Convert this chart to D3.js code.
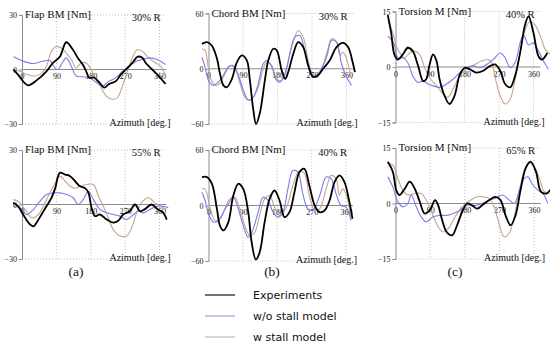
<!DOCTYPE html>
<html><head><meta charset="utf-8">
<script src="https://cdn.jsdelivr.net/npm/d3@7"></script>
<style>body{margin:0;background:#fff}svg{display:block}</style>
</head><body>
<svg id="c" width="550" height="344"></svg>
<script>
// ---- data: [azimuth deg, value Nm] ----
const azTicks = [0, 90, 180, 270, 360];
const seriesNames = ["Experiments", "w/o stall model", "w stall model"];
const captions = ["(a)", "(b)", "(c)"];
const titles = ["Flap BM [Nm]", "Chord BM [Nm]", "Torsion M [Nm]", "Flap BM [Nm]", "Chord BM [Nm]", "Torsion M [Nm]"];
const stations = ["30% R", "30% R", "40% R", "55% R", "40% R", "65% R"];
const yMax = [30, 60, 15, 30, 60, 15];

const flap30Exp = [[-22,0],[-10,-3],[16,-8.7],[38,-6],[64,-1],[81,3.6],[99,7],[116,15],[133,11],[146,6.4],[159,2.7],[168,-1],[176,-4.5],[189,-4.5],[202,-7],[215,-10],[228,-8],[246,-6.4],[259,-2.7],[277,1],[289,3.6],[302,7],[315,6.5],[324,3.6],[341,0],[358,-3.6],[376,-8]];
const flap30NoStall = [[-22,7],[4,4.5],[29,3.3],[55,4.5],[73,5],[86,1],[94,0],[103,2.7],[116,6.4],[129,1.8],[142,-3.6],[159,-4],[176,-4.5],[194,-7],[211,-9],[228,-6.4],[246,-4.5],[263,-1],[280,1.8],[298,4.5],[315,5.5],[336,6.4],[354,5.5],[376,2.7]];
const flap30Stall = [[-22,0],[-5,-1],[12,-2.7],[29,-3.6],[47,-2.7],[64,1.8],[77,10],[90,12.7],[103,11.8],[116,9],[129,5.5],[142,1],[155,3.6],[168,3.6],[181,0],[194,-5.5],[207,-10],[220,-14.5],[237,-16.4],[250,-15.5],[263,-9],[276,-1],[289,6.4],[302,11],[315,10],[332,6.4],[350,3.6],[363,1.8],[376,-3.6]];

const chord30Exp = [[-17,27],[-4,29],[9,25],[22,11],[30,-5.4],[39,-18],[48,-20],[61,-11],[74,7],[87,14.5],[100,9],[108,-12.7],[117,-45],[124,-60],[134,-48],[147,-12.7],[156,9],[169,21.7],[178,20],[191,-2],[200,-11],[208,-3.6],[221,16],[234,29],[247,23.5],[260,3.6],[273,-9],[286,-7],[299,0],[316,9],[334,23.5],[351,28],[364,23.5],[377,5.4],[382,-3.6]];
const chord30NoStall = [[-17,12.7],[-9,2],[0,-12.7],[13,-18],[26,-14.5],[39,-7],[52,2],[65,3.6],[78,-7],[91,-23.5],[104,-34],[117,-30.8],[130,-16],[143,5.4],[152,9],[165,2],[178,-12.7],[186,-14.5],[200,-5.4],[212,16],[225,34],[238,36],[251,20],[264,0],[277,-9],[290,-3.6],[308,12.7],[321,30.8],[334,29],[347,5.4],[360,-9],[373,-18]];
const chord30Stall = [[-17,21.7],[-9,20],[4,-9],[17,-18],[30,-16],[43,-5.4],[56,3.6],[69,0],[82,-16],[95,-30.8],[104,-34.4],[117,-30.8],[130,-20],[143,0],[152,7],[165,3.6],[178,-11],[191,-12.7],[204,2],[217,23.5],[234,41.6],[247,34.4],[260,9],[273,-7],[290,-3.6],[308,16],[321,32.6],[334,29],[343,14.5],[351,18],[360,11],[373,-11]];

const tors40Exp = [[-20,14],[-11,9],[-3,3.4],[6,2],[19,3.4],[32,5.2],[45,4.3],[59,0.3],[72,-3.8],[80,-3.3],[89,0.7],[98,3.4],[107,1.6],[115,-3.3],[128,-7.8],[141,-10],[154,-7.8],[168,-2],[181,-0.2],[194,-0.6],[211,-1.5],[229,-1],[247,0.3],[260,0.7],[273,-1],[286,-4.6],[299,-5.5],[312,-2.4],[325,3.8],[338,11.4],[347,13.7],[360,9.2],[373,2.9],[382,2],[396,3.8]];
const tors40NoStall = [[-20,8.3],[-11,7.4],[-3,6],[6,2.5],[19,2.5],[32,1.2],[45,-2.4],[59,-4.2],[72,-3.8],[85,-4.6],[98,-5.1],[115,-5.5],[133,-4.6],[150,-3.3],[168,-1.5],[185,-0.2],[203,0.3],[220,-0.2],[238,0.7],[255,2],[273,3.8],[286,2.5],[299,-0.2],[312,1.2],[325,6.5],[334,8.7],[347,6],[360,6.5],[373,4.3],[386,1.6],[399,-0.6]];
const tors40Stall = [[-20,12.8],[-7,9.2],[6,4.7],[24,2.5],[37,3.8],[50,4.3],[63,3.4],[76,-0.2],[89,-2.9],[107,-5.1],[124,-7.3],[137,-8.2],[150,-6],[168,-2.4],[185,-0.6],[207,0.7],[224,1.6],[242,2],[251,1.2],[260,-2.9],[273,-7.8],[286,-10],[299,-8.7],[312,-3.3],[325,3.8],[338,10],[351,12.3],[364,11.4],[378,8.3],[391,4.7],[404,3.4]];

const flap55Exp = [[-23,1],[-10,-1],[3,-5.5],[17,-10],[30,-12],[38,-10],[51,-5.5],[64,-1],[77,3.6],[87,9],[99,17.4],[113,16.5],[126,15.6],[139,12.8],[152,10],[165,9],[174,6.4],[182,-1.8],[191,-6.4],[204,-5.5],[222,-8.3],[239,-10],[252,-9],[265,-5.5],[282,-3.7],[296,0],[309,-3.7],[321,-2.7],[339,0],[356,-2.7],[370,-4.6],[379,-8.3]];
const flap55NoStall = [[-23,-1],[-5,-1.8],[12,-5.5],[30,-2.7],[47,1.8],[64,5.5],[82,6.4],[99,6.4],[117,5.5],[134,3.7],[147,0],[160,2.7],[174,7.3],[187,2.7],[204,-2.7],[222,-4.6],[239,-5.5],[256,-6.4],[274,-8.3],[287,-6.4],[304,-3.7],[318,-4.6],[335,-2.7],[353,-1],[370,-1],[383,-1.8]];
const flap55Stall = [[-23,2.7],[-10,1.8],[8,-2.7],[25,-7.3],[43,-5.5],[60,1],[73,6.4],[87,12],[99,15.6],[113,12.8],[126,10],[139,9],[152,10],[169,11],[187,11],[200,4.6],[213,-1],[226,-7.3],[239,-13.8],[257,-17.4],[274,-17.4],[287,-12.8],[300,-4.6],[313,1],[331,3.7],[348,1],[361,-1],[379,-2.7]];

const chord40Exp = [[-17,30.7],[-4,30.7],[9,23.5],[22,-3.6],[30,-21.7],[39,-27],[52,-18],[65,10.8],[78,23.5],[91,18],[104,-7.2],[113,-39.7],[124,-58.5],[134,-50.5],[147,-18],[160,7.2],[173,16.2],[186,5.4],[199,-12.6],[212,-7.2],[225,14.4],[238,36],[251,39.7],[264,21.7],[278,0],[291,-7.2],[304,-5.4],[317,5.4],[330,25.3],[343,32.5],[356,25.3],[369,3.6],[377,-14.4]];
const chord40NoStall = [[-17,14.4],[-9,5.4],[0,-9],[13,-18],[26,-16.2],[39,-7.2],[52,1.8],[65,9],[78,-3.6],[91,-21.7],[104,-34.3],[117,-25.3],[130,-7.2],[143,9],[156,5.4],[169,-7.2],[182,-12.6],[195,-7.2],[208,18],[221,37.9],[234,36],[247,12.6],[260,-3.6],[273,-5.4],[291,10.8],[308,30.7],[321,29],[334,12.6],[347,0],[360,-1.8],[373,-16.2]];
const chord40Stall = [[-17,18],[-9,18],[4,-1.8],[17,-16.2],[30,-14.4],[43,-3.6],[56,7.2],[69,9],[82,-3.6],[95,-21.7],[108,-32.5],[121,-29],[134,-10.8],[147,7.2],[160,10.8],[173,-1.8],[186,-10.8],[204,-1.8],[221,21.7],[238,37.9],[251,34.3],[264,10.8],[278,-5.4],[291,-3.6],[308,18],[321,32.5],[334,28.9],[343,10.8],[351,18],[360,12.6],[373,-12.6]];

const tors65Exp = [[-20,11.3],[-7,8.6],[2,3.6],[10,2.3],[24,4],[37,5.9],[50,4],[63,0.5],[76,-2.7],[89,-1.8],[103,0.9],[111,-0.5],[120,-4],[133,-7.7],[147,-8.6],[160,-5.9],[173,-2.3],[186,0],[199,-0.5],[212,-1.4],[225,-0.5],[243,0.9],[260,1.8],[273,0.9],[286,-3.2],[299,-5.9],[312,-3.2],[325,3.6],[338,9.5],[351,11.3],[365,8.6],[378,3.2],[392,2.7],[405,4]];
const tors65NoStall = [[-20,7.2],[-7,4.5],[6,0.5],[19,-0.9],[32,0],[41,2.3],[54,-0.9],[67,-3.6],[80,-5],[98,-3.6],[115,-3.2],[133,-3.2],[150,-2.7],[168,-1.8],[186,-0.5],[208,-0.5],[225,0],[243,0.9],[260,1.4],[278,2.3],[296,0.9],[309,0],[322,3.6],[335,6.8],[344,7.2],[357,5],[370,3.6],[383,2.7],[396,0]];
const tors65Stall = [[-20,10.8],[-7,10.4],[6,6.8],[19,3.6],[32,2.3],[50,2.7],[67,2.7],[80,0.9],[94,-2.3],[111,-6.3],[124,-7.7],[137,-6.8],[155,-3.6],[173,-0.9],[195,0.9],[212,1.8],[229,1.8],[243,1.4],[256,-0.9],[269,-5.4],[282,-9],[295,-8.1],[308,-4],[321,3.2],[335,8.6],[348,10.8],[361,9.9],[374,6.8],[387,3.2],[400,2.7]];

const panelSeries = [
  [flap30Exp, flap30NoStall, flap30Stall],
  [chord30Exp, chord30NoStall, chord30Stall],
  [tors40Exp, tors40NoStall, tors40Stall],
  [flap55Exp, flap55NoStall, flap55Stall],
  [chord40Exp, chord40NoStall, chord40Stall],
  [tors65Exp, tors65NoStall, tors65Stall]
];

// ---- layout ----
const geom = [
  {x0:22, x1:159.5, yT:15, yB:124},
  {x0:208.5, x1:346.5, yT:13.5, yB:124},
  {x0:395.5, x1:533.5, yT:11.5, yB:122.5},
  {x0:22, x1:159.5, yT:150, yB:259},
  {x0:208.5, x1:346, yT:150, yB:261},
  {x0:395.5, x1:534, yT:148, yB:259}
];
const colors = ["#000000", "#8079e8", "#c8a38e"];
const legColors = ["#000000", "#9890f0", "#cbb2a2"];
const widths = [1.8, 1.1, 1.1];
const serif = "'Liberation Serif','Times New Roman',serif";
const sans = "'DejaVu Sans',sans-serif";

const svg = d3.select("#c");

geom.forEach((g, i) => {
  const x = d3.scaleLinear().domain([0, 360]).range([g.x0, g.x1]);
  const m = yMax[i];
  const y = d3.scaleLinear().domain([-m, m]).range([g.yB, g.yT]);
  const p = svg.append("g");
  const xEnd = x(378);

  // dotted grid
  p.selectAll(".vg").data(azTicks.slice(1)).join("line")
    .attr("x1", d => x(d)).attr("x2", d => x(d))
    .attr("y1", y(m)).attr("y2", y(-m))
    .attr("stroke", "#b0b0b0").attr("stroke-width", 0.8).attr("stroke-dasharray", "1,2");
  p.selectAll(".hg").data([m, -m]).join("line")
    .attr("x1", x(0)).attr("x2", xEnd)
    .attr("y1", d => y(d)).attr("y2", d => y(d))
    .attr("stroke", "#b0b0b0").attr("stroke-width", 0.8).attr("stroke-dasharray", "1,2");
  // zero line
  p.append("line").attr("x1", x(0)).attr("x2", xEnd)
    .attr("y1", y(0)).attr("y2", y(0))
    .attr("stroke", "#8c8c8c").attr("stroke-width", 1);

  // y axis
  const ya = p.append("g").attr("transform", `translate(${x(0)},0)`)
    .call(d3.axisLeft(y).tickValues([-m, 0, m]).tickSize(3).tickPadding(2));
  ya.select(".domain").attr("stroke", "#8c8c8c");
  ya.selectAll(".tick line").attr("stroke", "#8c8c8c");
  ya.selectAll("text").attr("font-family", serif).attr("font-size", 8).attr("fill", "#222");

  // x tick labels
  const xa = p.append("g").attr("transform", `translate(0,${y(0)})`)
    .call(d3.axisBottom(x).tickValues(azTicks).tickSize(0).tickPadding(4));
  xa.select(".domain").remove();
  xa.selectAll("text").attr("font-family", serif).attr("font-size", 8).attr("fill", "#222");

  // lines
  const line = d3.line().x(d => x(d[0])).y(d => y(d[1])).curve(d3.curveCatmullRom.alpha(0.5));
  [2, 1, 0].forEach(s => {
    p.append("path").datum(panelSeries[i][s]).attr("d", line)
      .attr("fill", "none").attr("stroke", colors[s]).attr("stroke-width", widths[s])
      .attr("stroke-linejoin", "round");
  });

  // texts
  p.append("text").attr("x", x(0) + 3).attr("y", g.yT + 3)
    .attr("font-family", serif).attr("font-size", 11).attr("fill", "#111").text(titles[i]);
  p.append("text").attr("x", x(360) + 1).attr("y", g.yT + 6).attr("text-anchor", "end")
    .attr("font-family", serif).attr("font-size", 10.5).attr("fill", "#111").text(stations[i]);
  p.append("text").attr("x", x(360) + 11).attr("y", g.yB + 2).attr("text-anchor", "end")
    .attr("font-family", serif).attr("font-size", 10).attr("fill", "#111").text("Azimuth [deg.]");
});

// captions
[76, 272, 455].forEach((cx, k) => {
  svg.append("text").attr("x", cx).attr("y", 276).attr("text-anchor", "middle")
    .attr("font-family", serif).attr("font-size", 13.5).attr("fill", "#111").text(captions[k]);
});

// legend
const legY = [295, 316, 337];
seriesNames.forEach((n, k) => {
  svg.append("line").attr("x1", 205).attr("x2", 235).attr("y1", legY[k]).attr("y2", legY[k])
    .attr("stroke", legColors[k]).attr("stroke-width", 1.1);
  svg.append("text").attr("x", 253).attr("y", legY[k] + 3.5)
    .attr("font-family", sans).attr("font-size", 11).attr("fill", "#111").text(n);
});
</script>
</body></html>
